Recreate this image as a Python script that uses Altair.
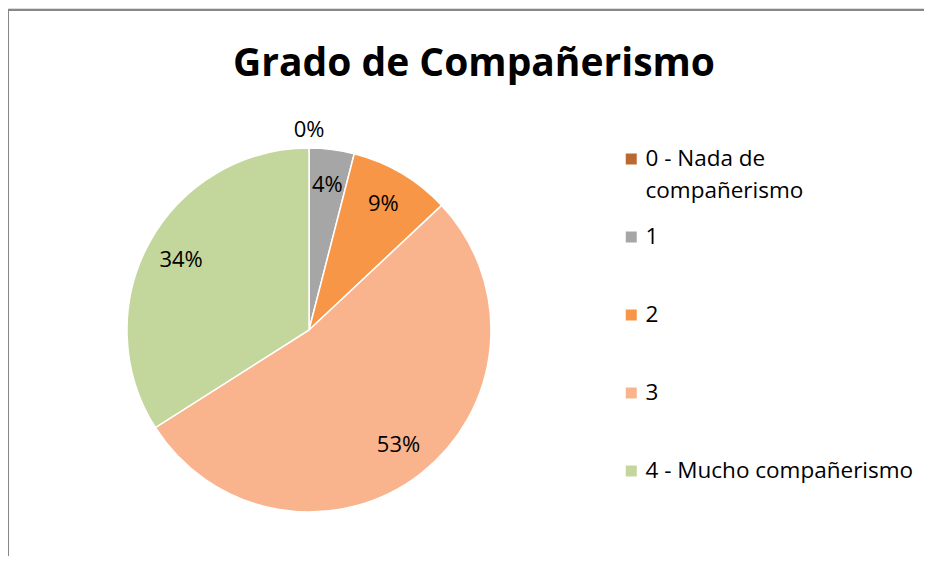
import altair as alt
import pandas as pd

title_text = "Grado de Compañerismo"
categories = ["0 - Nada de compañerismo", "1", "2", "3", "4 - Mucho compañerismo"]
percentages = [0, 4, 9, 53, 34]
colors = ["#BA6A31", "#A6A6A6", "#F79646", "#FAB48D", "#C3D69B"]

df = pd.DataFrame({
    "categoria": categories,
    "pct": percentages,
    "orden": list(range(len(categories))),
})
df["etiqueta"] = [f"{p}%" for p in percentages]

W, H = 916, 548
CX, CY, R = 301, 322, 182
FONT = "Open Sans"

base = alt.Chart(df).encode(
    theta=alt.Theta("pct:Q", stack=True),
    order=alt.Order("orden:Q"),
)

wrap_expr = (
    "datum.label == '" + categories[0] + "' ? ['0 - Nada de', 'compañerismo'] : datum.label"
)

pie = base.mark_arc(outerRadius=R, stroke="white", strokeWidth=1.5).encode(
    x=alt.value(CX),
    y=alt.value(CY),
    color=alt.Color(
        "categoria:N",
        scale=alt.Scale(domain=categories, range=colors),
        legend=alt.Legend(
            title=None,
            orient="none",
            legendX=612,
            legendY=139,
            symbolType="square",
            symbolSize=121,
            symbolStrokeWidth=0,
            labelFont=FONT,
            labelFontSize=22.5,
            labelColor="black",
            labelOffset=3,
            rowPadding=22,
            clipHeight=24,
            gridAlign="all",
            padding=0,
            labelLimit=400,
            labelExpr=wrap_expr,
        ),
    ),
)

labels = base.mark_text(radius=146, font=FONT, fontSize=22, color="black").encode(
    x=alt.value(CX), y=alt.value(CY), text="etiqueta:N"
).transform_filter("datum.pct > 0")

zero_label = base.mark_text(radius=200, font=FONT, fontSize=22, color="black").encode(
    x=alt.value(CX), y=alt.value(CY), text="etiqueta:N"
).transform_filter("datum.pct == 0")

frame_df = pd.DataFrame({"a": [0]})
top_line = alt.Chart(frame_df).mark_rule(color="#878787", strokeWidth=2).encode(
    x=alt.value(0), x2=alt.value(W), y=alt.value(2)
)
left_line = alt.Chart(frame_df).mark_rule(color="#878787", strokeWidth=2).encode(
    x=alt.value(0), y=alt.value(1), y2=alt.value(H)
)

title = alt.Chart(pd.DataFrame({"titulo": [title_text]})).mark_text(
    font=FONT, fontSize=39, fontWeight="bold", baseline="alphabetic", align="center", color="black"
).encode(text="titulo:N", x=alt.value(466), y=alt.value(68))

chart = alt.layer(top_line, left_line, pie, labels, zero_label, title).properties(
    width=W, height=H, autosize=alt.AutoSizeParams(type="none"), padding=0
).configure_view(stroke=None).configure(style={"guide-label": {"lineHeight": 32}})

chart.save("out.html", embed_options={"renderer": "svg", "actions": False})
